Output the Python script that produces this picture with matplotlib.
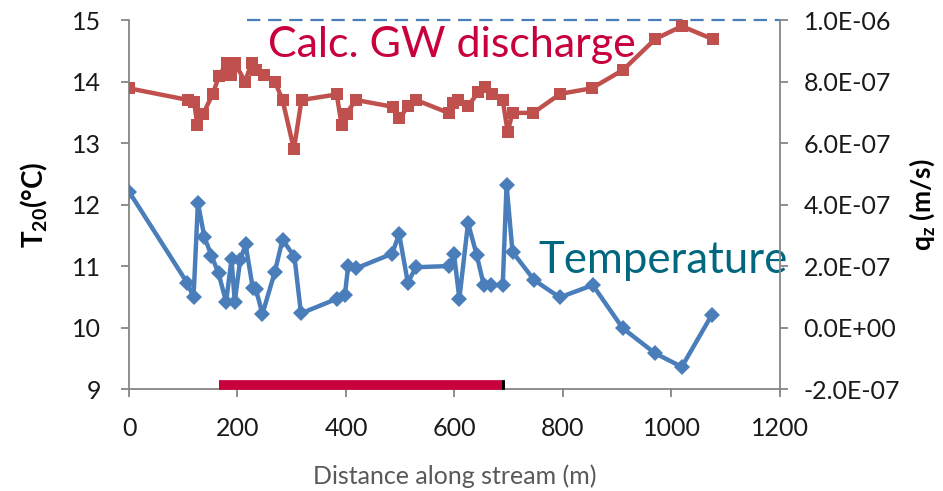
import numpy as np
import matplotlib.pyplot as plt

plt.rcParams['font.family'] = ['Lato', 'DejaVu Sans']

# stream temperature T20 (deg C) vs distance (m)
temp_dist = [0, 107, 119, 127, 139, 152, 165, 179, 189, 195, 205, 215, 228, 234,
             246, 269, 283, 305, 317, 384, 398, 404, 418, 485, 498, 514, 529, 590,
             599, 609, 625, 641, 654, 667, 689, 696, 707, 747, 794, 855, 910, 970,
             1019, 1074]
temp_vals = [12.21, 10.73, 10.49, 12.03, 11.47, 11.17, 10.88, 10.42, 11.11, 10.42, 11.1, 11.35,
             10.65, 10.62, 10.22, 10.91, 11.43, 11.15, 10.23, 10.47, 10.53, 11.0, 10.96, 11.2,
             11.52, 10.73, 10.98, 11.0, 11.2, 10.47, 11.7, 11.18, 10.69, 10.69, 10.69, 12.32,
             11.23, 10.77, 10.49, 10.69, 9.99, 9.58, 9.36, 10.2]

# calculated groundwater discharge q_z (x1e-7 m/s) vs distance (m)
gw_dist = [0, 109, 120, 126, 137, 154, 166, 180, 188, 195, 214, 226, 234, 248, 269, 283,
           304, 318, 383, 392, 401, 418, 486, 498, 515, 529, 589, 598, 607, 625, 644, 656,
           669, 689, 698, 707, 745, 795, 853, 911, 970, 1019, 1076]
gw_q = [7.78, 7.40, 7.34, 6.58, 6.96, 7.58, 8.18, 8.60, 8.20, 8.60, 8.0, 8.60, 8.38, 8.22,
        8.0, 7.40, 5.80, 7.40, 7.58, 6.58, 6.96, 7.40, 7.18, 6.80, 7.20, 7.40, 6.98, 7.30,
        7.40, 7.20, 7.66, 7.82, 7.58, 7.40, 6.36, 6.98, 6.98, 7.60, 7.78, 8.38, 9.38, 9.80, 9.38]

q_ref = 10.0            # dashed reference level (x1e-7 m/s)
q_ref_start = 218
reach_start, reach_end = 166, 688

temp_ticks = [9, 10, 11, 12, 13, 14, 15]
q_ticks = [-2, 0, 2, 4, 6, 8, 10]
q_tick_labels = ['-2.0E-07', '0.0E+00', '2.0E-07', '4.0E-07', '6.0E-07', '8.0E-07', '1.0E-06']
x_ticks = [0, 200, 400, 600, 800, 1000, 1200]

spine_col = '#868686'
blue = '#4A7EBB'
red = '#C0504D'

fig = plt.figure(figsize=(9.43, 4.91), dpi=100)
ax = fig.add_axes([0.1368, 0.2077, 0.6903, 0.7515])
ax2 = ax.twinx()

ax.plot(temp_dist, temp_vals, color=blue, lw=3.2, marker='D', ms=8,
        markeredgewidth=0, zorder=3)
ax2.plot(gw_dist, gw_q, color=red, lw=3.2, marker='s', ms=8.8,
         markeredgewidth=0, zorder=3)
ax2.plot([q_ref_start, 1200], [q_ref, q_ref], color=blue, lw=1.6,
         dashes=(6, 3.5), clip_on=False)

ax.plot([reach_start, reach_end], [9.06, 9.06], color='#C8003C', lw=7,
        solid_capstyle='butt', clip_on=False, zorder=4)
ax.plot([reach_end, reach_end + 5], [9.06, 9.06], color='black', lw=7,
        solid_capstyle='butt', clip_on=False, zorder=4)

ax.set_xlim(0, 1200)
ax.set_ylim(9, 15)
ax2.set_ylim(-2, 10)
ax.set_xticks(x_ticks)
ax.set_yticks(temp_ticks)
ax2.set_yticks(q_ticks)
ax2.set_yticklabels(q_tick_labels)

for a in (ax, ax2):
    a.spines['top'].set_visible(False)
    for s in ('left', 'right', 'bottom'):
        a.spines[s].set_color(spine_col)
        a.spines[s].set_linewidth(1.3)
    a.tick_params(colors=spine_col, labelcolor='#1a1a1a', labelsize=18,
                  length=6, width=1.3, direction='out')
ax.spines['right'].set_visible(False)
ax2.spines['left'].set_visible(False)
ax2.spines['bottom'].set_visible(False)
ax.tick_params(axis='x', pad=14)
ax.tick_params(axis='y', pad=14)
ax2.tick_params(axis='y', pad=11)

ax.set_xlabel('Distance along stream (m)', fontsize=18, color='#595959', labelpad=18)
ax.set_ylabel(r'T$_{\mathregular{20}}$(°C)', fontsize=20, fontweight='bold', labelpad=16)
ax2.set_ylabel(r'q$_{\mathregular{z}}$ (m/s)', fontsize=19, fontweight='bold', labelpad=5)

ax.text(256, 14.4, 'Calc. GW discharge', fontsize=31, color='#C8003C', va='baseline', zorder=5)
ax.text(754, 10.89, 'Temperature', fontsize=31.5, color='#00677F', va='baseline',
        clip_on=False, zorder=5)

fig.savefig('out.png', dpi=100)
